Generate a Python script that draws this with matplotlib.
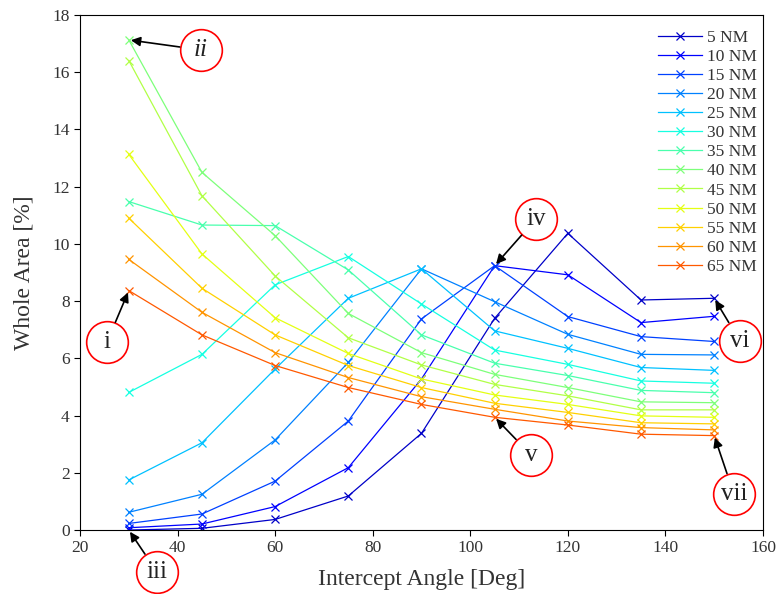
import matplotlib
matplotlib.use("Agg")
import matplotlib.pyplot as plt
import numpy as np
from matplotlib.transforms import offset_copy

plt.rcParams["font.family"] = ["Liberation Serif", "DejaVu Serif"]
TXT = "#333333"

angles = [30, 45, 60, 75, 90, 105, 120, 135, 150]
ranges = [5, 10, 15, 20, 25, 30, 35, 40, 45, 50, 55, 60, 65]

nm5 = [0.0, 0.06, 0.37, 1.19, 3.38, 7.40, 10.37, 8.04, 8.10]
nm10 = [0.08, 0.21, 0.82, 2.18, 5.28, 9.24, 8.92, 7.25, 7.47]
nm15 = [0.23, 0.56, 1.71, 3.81, 7.38, 9.24, 7.46, 6.76, 6.59]
nm20 = [0.62, 1.25, 3.15, 5.86, 9.13, 7.98, 6.84, 6.14, 6.12]
nm25 = [1.75, 3.05, 5.63, 8.10, 9.13, 6.96, 6.35, 5.68, 5.58]
nm30 = [4.81, 6.14, 8.57, 9.56, 7.90, 6.29, 5.79, 5.21, 5.13]
nm35 = [11.48, 10.66, 10.64, 9.09, 6.82, 5.83, 5.40, 4.88, 4.80]
nm40 = [17.13, 12.50, 10.29, 7.57, 6.20, 5.44, 4.98, 4.48, 4.45]
nm45 = [16.41, 11.68, 8.88, 6.72, 5.77, 5.09, 4.69, 4.20, 4.20]
nm50 = [13.13, 9.65, 7.42, 6.17, 5.28, 4.72, 4.39, 3.99, 3.94]
nm55 = [10.90, 8.45, 6.82, 5.75, 4.98, 4.43, 4.11, 3.75, 3.71]
nm60 = [9.46, 7.61, 6.20, 5.33, 4.66, 4.22, 3.81, 3.58, 3.50]
nm65 = [8.37, 6.82, 5.75, 4.98, 4.39, 3.94, 3.67, 3.35, 3.30]
series = [nm5, nm10, nm15, nm20, nm25, nm30, nm35, nm40, nm45, nm50, nm55, nm60, nm65]

# callouts: label, (angle index, series index), offset of circle centre in points
callouts = [
    ("i", (0, 12), (-15.7, -37.1)),
    ("ii", (0, 7), (52.0, -7.2)),
    ("iii", (0, 0), (20.3, -30.2)),
    ("iv", (5, 1), (29.7, 33.6)),
    ("v", (5, 12), (26.2, -27.1)),
    ("vi", (8, 0), (18.5, -30.7)),
    ("vii", (8, 12), (14.2, -42.0)),
]

fig = plt.figure(figsize=(7.76, 5.94), dpi=100)
ax = fig.add_axes([0.1031, 0.1077, 0.8801, 0.8670])

colors = plt.cm.jet(np.arange(1, 14) / 16)
for r, vals, c in zip(ranges, series, colors):
    ax.plot(angles, vals, color=c, lw=0.9, marker="x", ms=5.5, mew=0.9,
            label=f"{r} NM")

ax.set_xlim(20, 160)
ax.set_ylim(0, 18)
ax.set_xticks(range(20, 161, 20))
ax.set_yticks(range(0, 19, 2))
ax.tick_params(direction="out", length=4, labelsize=12.5, colors="black",
               labelcolor=TXT)
ax.set_xlabel("Intercept Angle [Deg]", fontsize=17, color=TXT, labelpad=9)
ax.set_ylabel("Whole Area [%]", fontsize=17, color=TXT, labelpad=13)

leg = ax.legend(loc="upper right", bbox_to_anchor=(1.006, 0.992), frameon=False,
                fontsize=12.5, handlelength=2.55, labelspacing=0.17,
                borderaxespad=0.2, handletextpad=0.25)
for t in leg.get_texts():
    t.set_color(TXT)

for label, (i, s), (dx, dy) in callouts:
    x, y = angles[i], series[s][i]
    tr = offset_copy(ax.transData, fig=fig, x=dx, y=dy, units="points")
    ax.plot([x], [y], marker="o", ms=30, mfc="white", mec="red", mew=1.2,
            transform=tr, clip_on=False, zorder=5)
    ax.annotate(label, xy=(x, y), xytext=(dx, dy), textcoords="offset points",
                ha="center", va="center", fontsize=18, color="#222222",
                style="italic" if label == "ii" else "normal",
                annotation_clip=False, zorder=6,
                arrowprops=dict(arrowstyle="-|>", color="black", lw=1.2,
                                mutation_scale=14, patchA=None,
                                shrinkA=15.5, shrinkB=1.5))

fig.savefig("out.png", dpi=100, facecolor="white")
